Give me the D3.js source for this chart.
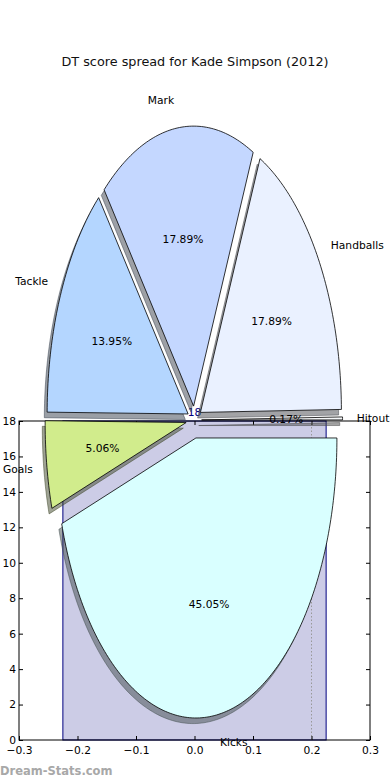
<!DOCTYPE html>
<html>
<head>
<meta charset="utf-8">
<script src="https://cdn.jsdelivr.net/npm/d3@7"></script>
<style>
  body { margin: 0; background: #fff; }
  text { font-family: "DejaVu Sans", sans-serif; }
</style>
</head>
<body>
<div id="container"></div>
<script>
var width = 390,
    height = 780,
    margin = { left: 19, top: 421, right: 20, bottom: 40 },
    g_width = width - margin.left - margin.right,
    g_height = height - margin.top - margin.bottom;

// data
var labels = ['Hitout', 'Handballs', 'Mark', 'Tackle', 'Goals', 'Kicks'];
var shares = [0.17, 17.89, 17.89, 13.95, 5.06, 45.05];
var explode = [0.05, 0.05, 0.05, 0.05, 0.06, 0.065];
var colours = ['#f4f6f8', '#eaf1ff', '#c4d7ff', '#b4d6ff', '#d1ec8c', '#d9ffff'];
var bar_x = [0];
var bar_heights = [18];
var bar_width = 0.45;
var ref_line = [0.2];
var x_ticks = [-0.3, -0.2, -0.1, 0.0, 0.1, 0.2, 0.3];
var y_ticks = [0, 2, 4, 6, 8, 10, 12, 14, 16, 18];

var svg = d3.select('#container')
    .append('svg')
    .attr('width', width)
    .attr('height', height)

svg.append('text')
    .text('DT score spread for Kade Simpson (2012)')
    .attr('x', 195)
    .attr('y', 66)
    .attr('text-anchor', 'middle')
    .style('font-size', '12.8px')
    .attr('fill', '#111')

// bar axes
var g = svg.append('g')
    .attr('transform', 'translate(' + margin.left + ',' + margin.top + ')')
var scale_x = d3.scaleLinear()
    .domain([-0.3, 0.3])
    .range([0, g_width])
var scale_y = d3.scaleLinear()
    .domain([0, 18])
    .range([g_height, 0])

g.selectAll('rect.bar')
    .data(bar_heights)
    .enter()
    .append('rect')
    .attr('class', 'bar')
    .attr('x', function (d, i) { return scale_x(bar_x[i] - bar_width / 2); })
    .attr('y', function (d) { return scale_y(d); })
    .attr('width', function (d, i) { return scale_x(bar_x[i] + bar_width / 2) - scale_x(bar_x[i] - bar_width / 2); })
    .attr('height', function (d) { return g_height - scale_y(d); })
    .attr('fill', 'rgba(0,0,128,0.2)')
    .attr('stroke', '#000080')
    .attr('stroke-width', 1)

g.selectAll('line.ref')
    .data(ref_line)
    .enter()
    .append('line')
    .attr('x1', function (d) { return scale_x(d); })
    .attr('x2', function (d) { return scale_x(d); })
    .attr('y1', scale_y(0))
    .attr('y2', scale_y(18))
    .attr('stroke', '#999')
    .attr('stroke-dasharray', '1.5,2')

// x axis (bottom + top, ticks inside)
var x_axis = d3.axisBottom(scale_x)
    .tickValues(x_ticks)
    .tickSize(-4)
    .tickPadding(6)
    .tickFormat(function (d) { return d3.format('.1f')(d).replace('-', '\u2212'); });
g.append('g')
    .attr('class', 'axis')
    .attr('transform', 'translate(0,' + g_height + ')')
    .call(x_axis)
g.append('g')
    .attr('class', 'axis')
    .call(d3.axisTop(scale_x).tickValues(x_ticks).tickSize(-4).tickFormat(''))
var y_axis = d3.axisLeft(scale_y)
    .tickValues(y_ticks)
    .tickSize(-4)
    .tickPadding(3)
g.append('g')
    .attr('class', 'axis')
    .call(y_axis)
g.append('g')
    .attr('class', 'axis')
    .attr('transform', 'translate(' + g_width + ',0)')
    .call(d3.axisRight(scale_y).tickValues(y_ticks).tickSize(-4).tickFormat(''))
g.selectAll('.axis path').remove()
g.selectAll('.axis line').attr('stroke', '#000')
g.selectAll('.axis text')
    .style('font-size', '10.7px')
    .style('font-family', '"DejaVu Sans", sans-serif')
    .attr('fill', '#000')
g.append('rect')
    .attr('width', g_width)
    .attr('height', g_height)
    .attr('fill', 'none')
    .attr('stroke', '#000')
    .attr('stroke-width', 1)

// pie (stretched, exploded, with shadows)
var pie_x = d3.scaleLinear().domain([-1, 1]).range([194.5 - 141, 194.5 + 141])
var pie_y = d3.scaleLinear().domain([-1, 1]).range([420 + 280, 420 - 280])
var total = d3.sum(shares);
var wedges = [];
var acc = 0;
shares.forEach(function (v, i) {
    var t1 = acc / total * 360, t2 = (acc + v) / total * 360;
    acc += v;
    var tm = (t1 + t2) / 2 * Math.PI / 180;
    wedges.push({ i: i, t1: t1, t2: t2, tm: tm,
        cx: explode[i] * Math.cos(tm), cy: explode[i] * Math.sin(tm) });
});
function wedge_points(w, ox, oy) {
    var pts = [[w.cx + ox, w.cy + oy]];
    var n = Math.max(2, Math.ceil((w.t2 - w.t1) / 1));
    for (var k = 0; k <= n; k++) {
        var a = (w.t1 + (w.t2 - w.t1) * k / n) * Math.PI / 180;
        pts.push([w.cx + ox + Math.cos(a), w.cy + oy + Math.sin(a)]);
    }
    return pts;
}
var line_generator = d3.line()
    .x(function (d) { return pie_x(d[0]); })
    .y(function (d) { return pie_y(d[1]); })
function shadow_colour(i) {
    var c = d3.rgb(colours[i]);
    return 'rgba(' + [c.r * 0.3, c.g * 0.3, c.b * 0.3].map(Math.round).join(',') + ',0.5)';
}
var pie_g = svg.append('g')
pie_g.selectAll('path.shadow')
    .data(wedges)
    .enter()
    .append('path')
    .attr('d', function (w) { return line_generator(wedge_points(w, -0.02, -0.02)) + 'Z'; })
    .attr('fill', function (w) { return shadow_colour(w.i); })
    .attr('stroke', function (w) { return shadow_colour(w.i); })
    .attr('stroke-width', 1)
pie_g.selectAll('path.wedge')
    .data(wedges)
    .enter()
    .append('path')
    .attr('d', function (w) { return line_generator(wedge_points(w, 0, 0)) + 'Z'; })
    .attr('fill', function (w) { return colours[w.i]; })
    .attr('stroke', '#000')
    .attr('stroke-width', 0.8)

pie_g.selectAll('text.label')
    .data(wedges)
    .enter()
    .append('text')
    .attr('x', function (w) { return pie_x(w.cx + 1.1 * Math.cos(w.tm)); })
    .attr('y', function (w) { return pie_y(w.cy + 1.1 * Math.sin(w.tm)); })
    .attr('dy', '0.35em')
    .attr('text-anchor', function (w) { return Math.cos(w.tm) > 0 ? 'start' : 'end'; })
    .style('font-size', '10.7px')
    .attr('fill', '#000')
    .text(function (w) { return labels[w.i]; })
pie_g.selectAll('text.pct')
    .data(wedges)
    .enter()
    .append('text')
    .attr('x', function (w) { return pie_x(w.cx + 0.6 * Math.cos(w.tm)); })
    .attr('y', function (w) { return pie_y(w.cy + 0.6 * Math.sin(w.tm)); })
    .attr('dy', '0.35em')
    .attr('text-anchor', 'middle')
    .style('font-size', '10.7px')
    .attr('fill', '#000')
    .text(function (w) { return shares[w.i].toFixed(2) + '%'; })

// bar value label
g.selectAll('text.bar-label')
    .data(bar_heights)
    .enter()
    .append('text')
    .attr('x', function (d, i) { return scale_x(bar_x[i]); })
    .attr('y', function (d) { return scale_y(d) - 5; })
    .attr('text-anchor', 'middle')
    .style('font-size', '10.7px')
    .attr('fill', '#000080')
    .text(function (d) { return d; })

svg.append('text')
    .text('Dream-Stats.com')
    .attr('x', 0)
    .attr('y', 775)
    .style('font-size', '11.5px')
    .style('font-weight', 'bold')
    .attr('fill', '#a8a8a8')
</script>
</body>
</html>
